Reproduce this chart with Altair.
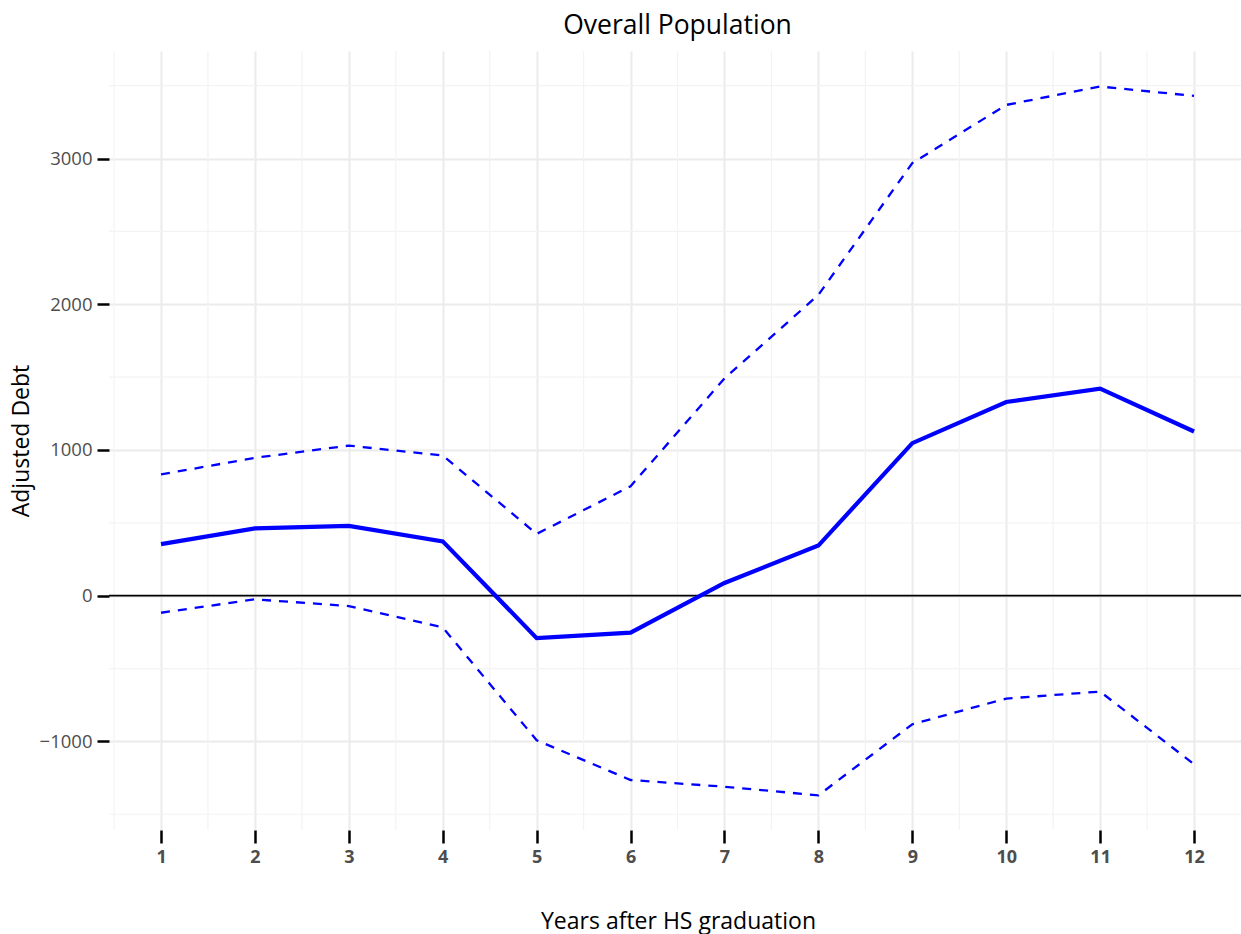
import altair as alt
import pandas as pd

# Years after high-school graduation
years = list(range(1, 13))

# Point estimate and confidence band of adjusted debt
estimate = [354, 462, 479, 373, -291, -254, 87, 344, 1047, 1329, 1421, 1127]
upper = [832, 946, 1030, 962, 424, 751, 1491, 2064, 2969, 3368, 3494, 3430]
lower = [-117, -25, -71, -218, -992, -1265, -1311, -1370, -882, -706, -658, -1157]

# Tick / grid positions
x_ticks = years
y_ticks = [-1000, 0, 1000, 2000, 3000]
minor_y = [-1500, -500, 500, 1500, 2500, 3500]
minor_x = [i + 0.5 for i in range(12)]

title_text = ["Overall Population"]

FONT = "Open Sans"
BLUE = "#0000ff"

df = pd.DataFrame({"year": years, "estimate": estimate, "upper": upper, "lower": lower})

x_scale = alt.Scale(domain=[0.446, 12.5], nice=False, zero=False)
y_scale = alt.Scale(domain=[-1608, 3738], nice=False, zero=False)

x_axis = alt.Axis(
    values=x_ticks, format="d",
    title="Years after HS graduation",
    titleFont=FONT, titleFontSize=23, titleFontWeight="normal", titleColor="#000000",
    titleBaseline="alphabetic", titleY=98, titleX=569,
    labelFont=FONT, labelFontSize=18, labelFontWeight="bold", labelColor="#4d4d4d",
    labelPadding=5, tickSize=13, tickWidth=2.5, tickColor="#000000",
    domain=False, grid=True, gridColor="#ebebeb", gridWidth=2,
)
y_axis = alt.Axis(
    values=y_ticks, format="d",
    title="Adjusted Debt",
    titleFont=FONT, titleFontSize=23, titleFontWeight="normal", titleColor="#000000",
    titleBaseline="alphabetic", titleAngle=-90, titleX=-81,
    labelFont=FONT, labelFontSize=18.5, labelColor="#4d4d4d",
    labelPadding=5, tickSize=12, tickWidth=2.5, tickColor="#000000",
    domain=False, grid=True, gridColor="#ebebeb", gridWidth=2,
)

base = alt.Chart(df)

minor_v = alt.Chart(pd.DataFrame({"x": minor_x})).mark_rule(
    color="#f3f3f3", strokeWidth=1.2
).encode(x=alt.X("x:Q", scale=x_scale, axis=x_axis))

minor_h = alt.Chart(pd.DataFrame({"y": minor_y})).mark_rule(
    color="#f3f3f3", strokeWidth=1.2
).encode(y=alt.Y("y:Q", scale=y_scale, axis=y_axis))

zero_line = alt.Chart(pd.DataFrame({"y": [0]})).mark_rule(
    color="#000000", strokeWidth=1.8
).encode(y=alt.Y("y:Q", scale=y_scale))

upper_line = base.mark_line(color=BLUE, strokeWidth=2.3, strokeDash=[9, 8]).encode(
    x=alt.X("year:Q", scale=x_scale), y=alt.Y("upper:Q", scale=y_scale)
)
lower_line = base.mark_line(color=BLUE, strokeWidth=2.3, strokeDash=[9, 8]).encode(
    x=alt.X("year:Q", scale=x_scale), y=alt.Y("lower:Q", scale=y_scale)
)
est_line = base.mark_line(color=BLUE, strokeWidth=4.2).encode(
    x=alt.X("year:Q", scale=x_scale), y=alt.Y("estimate:Q", scale=y_scale)
)

# Plot title, centred over the panel
title = alt.Chart(pd.DataFrame({"t": title_text})).mark_text(
    font=FONT, fontSize=26.5, color="#000000", align="center", baseline="alphabetic"
).encode(text="t:N", x=alt.value(568.5), y=alt.value(-17))

chart = alt.layer(
    minor_v, minor_h, zero_line, upper_line, lower_line, est_line, title
).properties(
    width=1132,
    height=779,
    autosize=alt.AutoSizeParams(type="none"),
    padding={"left": 109, "top": 51, "right": 0, "bottom": 104},
    background="#ffffff",
).configure_view(stroke=None)

chart.save("out.html", embed_options={"renderer": "svg", "actions": False})
